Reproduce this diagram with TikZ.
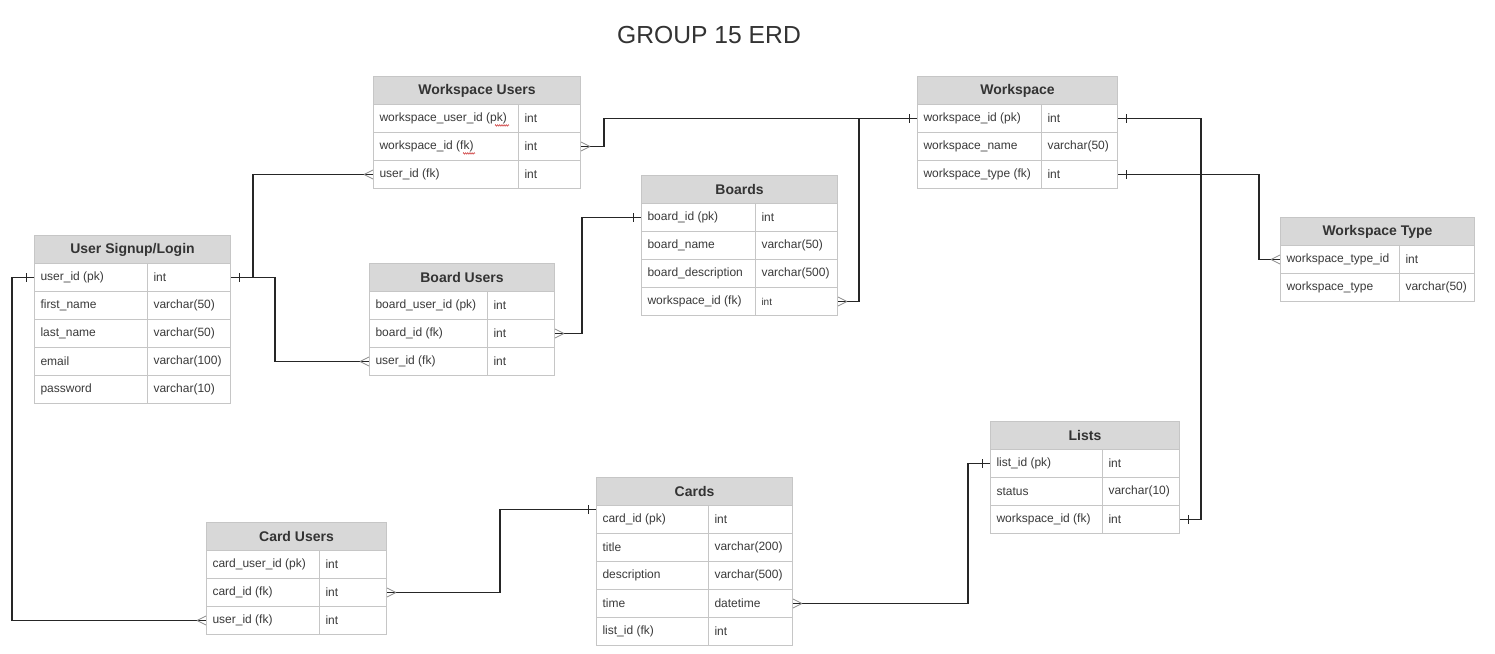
\documentclass[tikz,border=0pt]{standalone}
\usepackage{fontspec}
\setmainfont{Liberation Sans}
\usetikzlibrary{decorations.pathmorphing}
\definecolor{hdrgray}{HTML}{D8D8D8}
\definecolor{bordergray}{HTML}{C6C6C6}
\definecolor{txt}{HTML}{333333}
\definecolor{celltxt}{HTML}{3A3A3A}
\definecolor{linec}{HTML}{262626}
\definecolor{crowc}{HTML}{8C8C8C}
\definecolor{spellred}{HTML}{D04040}
\tikzset{
  hdr/.style={draw=bordergray, line width=0.75pt, fill=hdrgray, minimum height=21pt, inner sep=0pt,
    font=\fontsize{10.5}{12}\selectfont\bfseries, text=txt},
  cell/.style={draw=bordergray, line width=0.75pt, fill=white, minimum height=21pt, inner xsep=4.5pt,
    inner ysep=0pt, font=\fontsize{9}{11}\selectfont, text=celltxt},
  conn/.style={draw=linec, line width=0.8pt},
  onemark/.style={draw=linec, line width=0.6pt},
  crowmark/.style={draw=crowc, line width=0.6pt},
  spell/.style={draw=spellred, line width=0.4pt, decorate, decoration={zigzag, amplitude=0.6pt, segment length=1.6pt}}
}
\newcommand{\ertable}[7]{%
  \pgfmathsetmacro{\tw}{(#5-#2)*0.75}%
  \pgfmathsetmacro{\cw}{(#4-#2)*0.75}%
  \pgfmathsetmacro{\dw}{(#5-#4)*0.75}%
  \pgfmathsetmacro{\cwt}{(#4-#2)*0.75-9}%
  \pgfmathsetmacro{\dwt}{(#5-#4)*0.75-9}%
  \node[hdr, minimum width=\tw pt, anchor=north west] (#1) at (#2,#3) {#6};
  \foreach \a/\b [count=\i] in {#7} {
    \pgfmathsetmacro{\ry}{#3+28*\i}
    \node[cell, minimum width=\cw pt, anchor=north west] (#1-\i) at (#2,\ry) {\makebox[\cwt pt][l]{\a}};
    \node[cell, minimum width=\dw pt, anchor=north west] (#1-t\i) at (#4,\ry) {\makebox[\dwt pt][l]{\b}};
  }
}
% one-mark (tick) at an anchor; #2 = +1 for line going right, -1 for left
\newcommand{\onetick}[2]{\draw[onemark] (#1) ++(#2*8,-4.5) -- ++(0,9);}
\newcommand{\crowfoot}[2]{\draw[crowmark] (#1) ++(#2*9,0) -- ++(-#2*9,-4.5) (#1) ++(#2*9,0) -- ++(-#2*9,4.5);}
\begin{document}
\begin{tikzpicture}[x=0.75pt,y=-0.75pt]
\useasboundingbox (0,0) rectangle (1495,653);
\fill[white] (0,0) rectangle (1495,653);
\node[font=\fontsize{18.5}{22}\selectfont, text=txt] (title) at (709,35) {GROUP 15 ERD};

\ertable{wsu}{373}{76}{518}{580}{Workspace Users}{workspace\_user\_id (pk)/int, workspace\_id (fk)/int, user\_id (fk)/int}
\ertable{user}{34}{235}{147}{230}{User Signup/Login}{user\_id (pk)/int, first\_name/varchar(50), last\_name/varchar(50), email/varchar(100), password/varchar(10)}
\ertable{bu}{369}{263}{487}{554}{Board Users}{board\_user\_id (pk)/int, board\_id (fk)/int, user\_id (fk)/int}
\ertable{boards}{641}{175}{755}{837}{Boards}{board\_id (pk)/int, board\_name/varchar(50), board\_description/varchar(500), workspace\_id (fk)/{\fontsize{7.5}{9}\selectfont int}}
\ertable{ws}{917}{76}{1041}{1117}{Workspace}{workspace\_id (pk)/int, workspace\_name/varchar(50), workspace\_type (fk)/int}
\ertable{wt}{1280}{217}{1399}{1474}{Workspace Type}{workspace\_type\_id/int, workspace\_type/varchar(50)}
\ertable{lists}{990}{421}{1102}{1179}{Lists}{list\_id (pk)/int, status/varchar(10), workspace\_id (fk)/int}
\ertable{cards}{596}{477}{708}{792}{Cards}{card\_id (pk)/int, title/varchar(200), description/varchar(500), time/datetime, list\_id (fk)/int}
\ertable{cu}{206}{522}{319}{386}{Card Users}{card\_user\_id (pk)/int, card\_id (fk)/int, user\_id (fk)/int}

% spell-check squiggles under pk / fk
\draw[spell] ([xshift=91.5pt,yshift=-5.2pt]wsu-1.west) -- ++(14,0);
\draw[spell] ([xshift=67.5pt,yshift=-5.2pt]wsu-2.west) -- ++(12,0);

% connectors
\draw[conn] (user-t1.east) -- ++(22,0) |- (wsu-3.west);
\draw[conn] (user-t1.east) -- ++(44,0) |- (bu-3.west);
\draw[conn] (wsu-t2.east) -- ++(23,0) |- (ws-1.west);
\draw[conn] (bu-t2.east) -- ++(27,0) |- (boards-1.west);
\draw[conn] (boards-t4.east) -- ++(21,0) |- (ws-1.west);
\draw[conn] (ws-t1.east) -- ++(83,0) |- (lists-t3.east);
\draw[conn] (ws-t3.east) -- ++(141,0) |- (wt-1.west);
\draw[conn] (cards-t4.east) -- ++(175,0) |- (lists-1.west);
\draw[conn] (cu-t2.east) -- ++(113,0) |- ([yshift=7.5pt]cards-1.west);
\draw[conn] (user-1.west) -- ++(-22,0) |- (cu-3.west);

% one marks
\onetick{user-t1.east}{1}
\onetick{user-1.west}{-1}
\onetick{ws-1.west}{-1}
\onetick{boards-1.west}{-1}
\onetick{ws-t1.east}{1}
\onetick{ws-t3.east}{1}
\onetick{lists-t3.east}{1}
\onetick{lists-1.west}{-1}
\onetick{[yshift=7.5pt]cards-1.west}{-1}

% crow's feet
\crowfoot{wsu-3.west}{-1}
\crowfoot{bu-3.west}{-1}
\crowfoot{wsu-t2.east}{1}
\crowfoot{bu-t2.east}{1}
\crowfoot{boards-t4.east}{1}
\crowfoot{wt-1.west}{-1}
\crowfoot{cards-t4.east}{1}
\crowfoot{cu-t2.east}{1}
\crowfoot{cu-3.west}{-1}
\end{tikzpicture}
\end{document}
